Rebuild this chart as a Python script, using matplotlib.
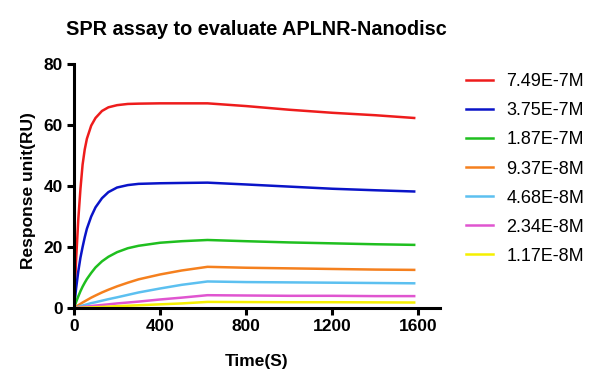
import numpy as np
import matplotlib
matplotlib.use('Agg')
import matplotlib.pyplot as plt

tempo = [0, 10, 20, 30, 40, 50, 60, 80, 100, 130, 160, 200, 250, 300, 400, 500, 620, 800, 1000, 1200, 1400, 1580]

r_749 = [0, 16, 29, 39, 47, 52, 55.5, 59.8, 62.3, 64.6, 65.8, 66.5, 66.9, 67.0, 67.1, 67.1, 67.1, 66.2, 65.0, 64.0, 63.2, 62.3]
r_375 = [0, 6.5, 12, 16.5, 20, 23.2, 26, 30, 33, 36, 38, 39.5, 40.3, 40.7, 40.9, 41.0, 41.1, 40.5, 39.8, 39.1, 38.6, 38.2]
r_187 = [0, 2, 3.8, 5.5, 7, 8.3, 9.5, 11.5, 13.3, 15.3, 16.8, 18.3, 19.6, 20.4, 21.4, 21.9, 22.3, 21.9, 21.5, 21.2, 20.9, 20.7]
r_937 = [0, 0.45, 0.9, 1.35, 1.8, 2.2, 2.6, 3.4, 4.1, 5.1, 6.0, 7.1, 8.3, 9.4, 11.0, 12.3, 13.5, 13.2, 13.0, 12.8, 12.6, 12.5]
r_468 = [0, 0.2, 0.4, 0.6, 0.8, 1.0, 1.2, 1.6, 1.9, 2.4, 2.9, 3.5, 4.3, 5.1, 6.4, 7.6, 8.7, 8.5, 8.4, 8.3, 8.2, 8.1]
r_234 = [0, 0.1, 0.2, 0.28, 0.35, 0.43, 0.5, 0.65, 0.8, 1.0, 1.2, 1.5, 1.8, 2.1, 2.8, 3.4, 4.2, 4.1, 4.0, 4.0, 3.9, 3.9]
r_117 = [0, 0.02, 0.05, 0.08, 0.1, 0.13, 0.15, 0.2, 0.25, 0.35, 0.45, 0.6, 0.75, 0.9, 1.2, 1.5, 2.0, 1.95, 1.9, 1.9, 1.85, 1.8]

series = [r_749, r_375, r_187, r_937, r_468, r_234, r_117]
rotulos = ['7.49E-7M', '3.75E-7M', '1.87E-7M', '9.37E-8M', '4.68E-8M', '2.34E-8M', '1.17E-8M']
cores = ['#ee1c1c', '#0a14c8', '#1fbf1f', '#f5801e', '#5cc0f0', '#e055d0', '#f5f000']

plt.rcParams['font.family'] = ['Liberation Sans', 'DejaVu Sans']

fig = plt.figure(figsize=(5.99, 3.89), dpi=100)
ax = fig.add_axes([0.1235, 0.2082, 0.6111, 0.6273])

for y, rot, cor in zip(series, rotulos, cores):
  ax.plot(tempo, y, color=cor, lw=1.8, label=rot)

ax.set_xlim(0, 1700)
ax.set_ylim(0, 80)
ax.set_xticks([0, 400, 800, 1200, 1600])
ax.set_yticks([0, 20, 40, 60, 80])
for s in ['top', 'right']:
  ax.spines[s].set_visible(False)
for s in ['left', 'bottom']:
  ax.spines[s].set_linewidth(2.2)
ax.tick_params(width=2.2, length=5, labelsize=12.5, pad=3)
for t in ax.get_xticklabels() + ax.get_yticklabels():
  t.set_fontweight('bold')

ax.set_xlabel('Time(S)', fontsize=12.5, fontweight='bold')
ax.set_ylabel('Response unit(RU)', fontsize=12.5, fontweight='bold')
ax.xaxis.set_label_coords(0.5, -0.19)
ax.yaxis.set_label_coords(-0.105, 0.48)
fig.text(0.428, 0.925, 'SPR assay to evaluate APLNR-Nanodisc', fontsize=14.3, fontweight='bold',
         ha='center', va='center')

ax.legend(loc='upper left', bbox_to_anchor=(0.763, 0.835), bbox_transform=fig.transFigure,
          frameon=False, fontsize=13, handlelength=1.5, handletextpad=0.72,
          labelspacing=0.67, borderpad=0)

fig.savefig('out.png', dpi=100)
